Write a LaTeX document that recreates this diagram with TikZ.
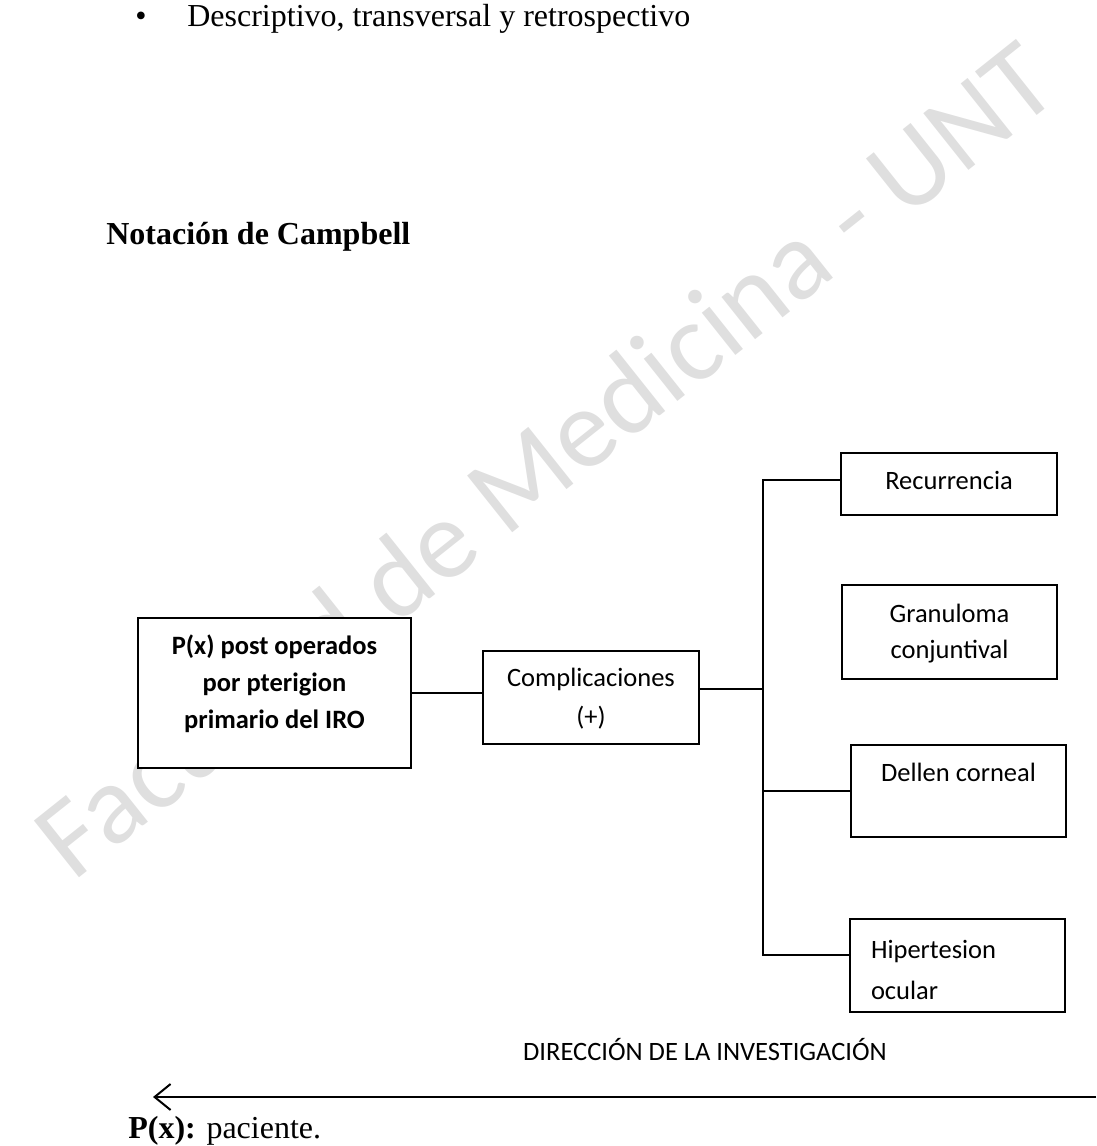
\documentclass[tikz,border=0pt]{standalone}
\usepackage{fontspec}
\setmainfont{Liberation Serif}
\newfontfamily\calibri{Carlito}
\usetikzlibrary{arrows.meta}

\tikzset{
    caja/.style={draw, fill=white, line width=2pt, inner sep=0pt, anchor=north, align=flush center, font=\calibri\fontsize{26.5}{36}\selectfont},
    times/.style={font=\fontsize{32}{38}\selectfont},
}

\begin{document}
\begin{tikzpicture}[x=1pt, y=-1pt, line width=2pt]
    \useasboundingbox (0,0) rectangle (1096,1146);

    % marca de agua
    \node[anchor=base west, rotate=38.5, text=gray!25, font=\calibri\fontsize{113}{113}\selectfont] (marca) at (70,885) {Facultad de Medicina - UNT};

    \node[times, anchor=base] (punto) at (141,26) {\textbullet};
    \node[times, anchor=base west] (diseno) at (183,26) {Descriptivo, transversal y retrospectivo};
    \node[anchor=base west, font=\bfseries\fontsize{32}{38}\selectfont] (titulo) at (102,244) {Notación de Campbell};

    \node[caja, text width=273pt, text height=36pt, text depth=114pt, font=\calibri\bfseries\fontsize{26.5}{37}\selectfont] (pac) at (274.5,617) {P(x) post operados\\por pterigion\\primario del IRO};
    \node[caja, text width=216pt, text height=35pt, text depth=58pt, font=\calibri\fontsize{26.5}{39}\selectfont] (comp) at (591,650) {Complicaciones\\(+)};

    \node[caja, text width=216pt, text height=36pt, text depth=26pt] (rec) at (949,452) {Recurrencia};
    \node[caja, text width=215pt, text height=37pt, text depth=57pt] (gran) at (949.5,584) {Granuloma\\conjuntival};
    \node[caja, text width=215pt, text height=36pt, text depth=56pt] (dellen) at (958.5,744) {Dellen corneal};
    \node[caja, text width=173pt, inner xsep=21pt, align=left, text height=39pt, text depth=54pt, font=\calibri\fontsize{26.5}{41}\selectfont] (hip) at (957.5,918) {Hipertesion\\ocular};

    \coordinate (nudo) at (763,689);
    \coordinate (arriba) at (763,480);
    \coordinate (abajo) at (763,955);

    \draw (pac.east) -- (pac.east -| comp.west);
    \draw (comp.east |- nudo) -- (nudo);
    \draw (rec.west |- arriba) -- (arriba) -- (abajo) -- (abajo -| hip.west);
    \draw (dellen.west -| nudo) -- (dellen.west);

    % direccion de la investigacion
    \node[anchor=base, font=\calibri\fontsize{26.5}{32}\selectfont] (direccion) at (705,1060) {DIRECCIÓN DE LA INVESTIGACIÓN};
    \coordinate (dirini) at (1096,1097);
    \coordinate (dirfin) at (153,1097);
    \draw[-{Straight Barb[length=16pt, width=26pt]}] (dirini) -- (dirfin);

    \node[times, anchor=base west] (leyenda) at (124,1138) {\textbf{P(x):} paciente.};
\end{tikzpicture}
\end{document}
